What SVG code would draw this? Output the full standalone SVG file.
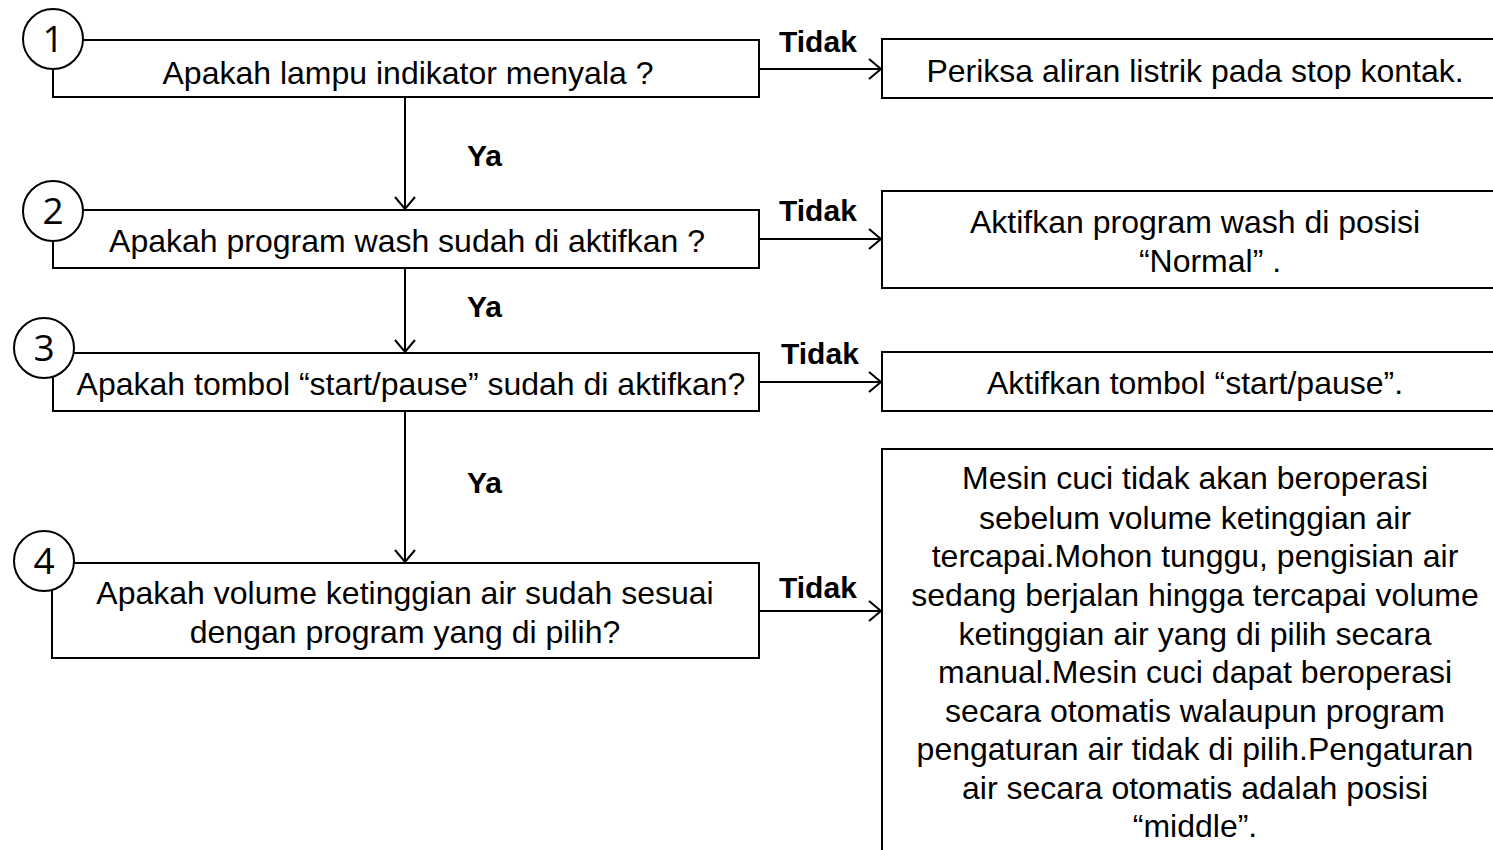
<svg xmlns="http://www.w3.org/2000/svg" width="1493" height="850" viewBox="0 0 1493 850">
<style>
.box{fill:#fff;stroke:#000;stroke-width:2}
.circ{fill:#fff;stroke:#000;stroke-width:2}
.num{font-family:"Open Sans","Noto Sans",sans-serif;font-size:37px;text-anchor:middle;fill:#000}
.t{font-family:"Liberation Sans",Arial,sans-serif;font-size:32px;text-anchor:middle;fill:#000}
.lbl{font-family:"Liberation Sans",Arial,sans-serif;font-size:30px;font-weight:bold;fill:#000}
.edge{stroke:#000;stroke-width:2;fill:none;marker-end:url(#arr)}
</style>
<defs>
<marker id="arr" markerWidth="16" markerHeight="22" refX="13" refY="11" orient="auto" markerUnits="userSpaceOnUse">
<path d="M1,1 L13,11 L1,21" fill="none" stroke="#000" stroke-width="2"/>
</marker>
</defs>
<rect width="1493" height="850" fill="#fff"/>
<g id="connectors">
<line class="edge" x1="759" y1="69" x2="881" y2="69"/>
<line class="edge" x1="759" y1="239" x2="881" y2="239"/>
<line class="edge" x1="759" y1="382" x2="881" y2="382"/>
<line class="edge" x1="759" y1="611" x2="881" y2="611"/>
<line class="edge" x1="405" y1="97" x2="405" y2="209"/>
<line class="edge" x1="405" y1="268" x2="405" y2="352"/>
<line class="edge" x1="405" y1="411" x2="405" y2="562"/>
<text class="lbl" x="779" y="52">Tidak</text>
<text class="lbl" x="779" y="221">Tidak</text>
<text class="lbl" x="781" y="364">Tidak</text>
<text class="lbl" x="779" y="598">Tidak</text>
<text class="lbl" x="467" y="166">Ya</text>
<text class="lbl" x="467" y="317">Ya</text>
<text class="lbl" x="467" y="493">Ya</text>
</g>
<g id="q1">
<rect class="box" x="53" y="40" width="706" height="57"/>
<circle class="circ" cx="53" cy="39" r="30"/>
<text class="num" x="53" y="52">1</text>
<text class="t" x="408" y="84">Apakah lampu indikator menyala ?</text>
</g>
<g id="q2">
<rect class="box" x="53" y="210" width="706" height="58"/>
<circle class="circ" cx="53" cy="211" r="30"/>
<text class="num" x="53" y="224">2</text>
<text class="t" x="407" y="252">Apakah program wash sudah di aktifkan ?</text>
</g>
<g id="q3">
<rect class="box" x="53" y="353" width="706" height="58"/>
<circle class="circ" cx="44" cy="348" r="30"/>
<text class="num" x="44" y="361">3</text>
<text class="t" x="411" y="395">Apakah tombol “start/pause” sudah di aktifkan?</text>
</g>
<g id="q4">
<rect class="box" x="52" y="563" width="707" height="95"/>
<circle class="circ" cx="44" cy="561" r="30"/>
<text class="num" x="44" y="574">4</text>
<text class="t" x="405" y="604">Apakah volume ketinggian air sudah sesuai</text>
<text class="t" x="405" y="643">dengan program yang di pilih?</text>
</g>
<g id="a1">
<rect class="box" x="882" y="39" width="640" height="59"/>
<text class="t" x="1195" y="82">Periksa aliran listrik pada stop kontak.</text>
</g>
<g id="a2">
<rect class="box" x="882" y="191" width="640" height="97"/>
<text class="t" x="1195" y="233">Aktifkan program wash di posisi</text>
<text class="t" x="1210" y="272">“Normal” .</text>
</g>
<g id="a3">
<rect class="box" x="882" y="352" width="640" height="59"/>
<text class="t" x="1195" y="394">Aktifkan tombol “start/pause”.</text>
</g>
<g id="a4">
<rect class="box" x="882" y="449" width="640" height="420"/>
<text class="t" x="1195" y="489">Mesin cuci tidak akan beroperasi</text>
<text class="t" x="1195" y="529">sebelum volume ketinggian air</text>
<text class="t" x="1195" y="567">tercapai.Mohon tunggu, pengisian air</text>
<text class="t" x="1195" y="606">sedang berjalan hingga tercapai volume</text>
<text class="t" x="1195" y="645">ketinggian air yang di pilih secara</text>
<text class="t" x="1195" y="683">manual.Mesin cuci dapat beroperasi</text>
<text class="t" x="1195" y="722">secara otomatis walaupun program</text>
<text class="t" x="1195" y="760">pengaturan air tidak di pilih.Pengaturan</text>
<text class="t" x="1195" y="799">air secara otomatis adalah posisi</text>
<text class="t" x="1195" y="837">“middle”.</text>
</g>
</svg>
